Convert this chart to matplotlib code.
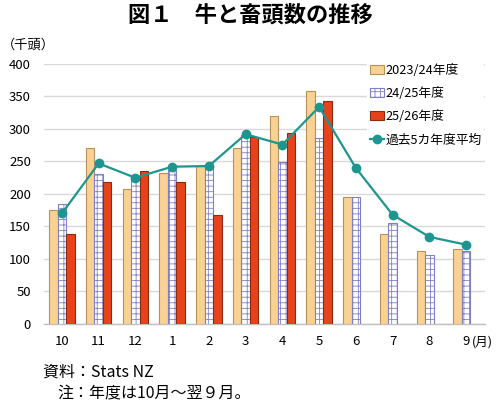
import matplotlib
matplotlib.use("Agg")
import matplotlib.pyplot as plt
import numpy as np

plt.rcParams['font.family'] = ['Noto Sans CJK JP', 'DejaVu Sans']
plt.rcParams['hatch.linewidth'] = 0.6

months = ["10", "11", "12", "1", "2", "3", "4", "5", "6", "7", "8", "9"]
fy2023_24 = [176, 270, 207, 232, 243, 271, 320, 359, 196, 139, 113, 116]
fy24_25 = [184, 231, 223, 237, 241, 290, 249, 286, 196, 156, 106, 113]
fy25_26 = [138, 219, 236, 219, 168, 288, 294, 343, None, None, None, None]
avg5 = [170, 247, 225, 242, 243, 292, 276, 334, 240, 168, 134, 122]

labels = ["2023/24年度", "24/25年度", "25/26年度", "過去5カ年度平均"]
yticks = [0, 50, 100, 150, 200, 250, 300, 350, 400]

fig = plt.figure(figsize=(5.0, 4.05), dpi=100)
ax = fig.add_axes([0.087, 0.2, 0.882, 0.642])

x = np.arange(len(months))
w = 0.23

b1 = ax.bar(x - w, fy2023_24, w, color="#F9D293", edgecolor="#B8915A", linewidth=0.8, zorder=3, label=labels[0])
b2 = ax.bar(x, fy24_25, w, color="white", edgecolor="#7F80C6", hatch="+++", linewidth=0.8, zorder=3, label=labels[1])
xr = [xi + w for xi, v in zip(x, fy25_26) if v is not None]
vr = [v for v in fy25_26 if v is not None]
b3 = ax.bar(xr, vr, w, color="#E8421A", edgecolor="#8A2A10", linewidth=0.8, zorder=3, label=labels[2])
ln, = ax.plot(x, avg5, color="#1F958F", linewidth=1.6, marker="o", markersize=6, zorder=4, label=labels[3])

ax.set_ylim(0, 400)
ax.set_xlim(-0.5, len(months) - 0.5)
ax.set_yticks(yticks)
ax.set_xticks(x)
ax.set_xticklabels(months)
ax.yaxis.grid(True, color="#D9D9D9", linewidth=1.0, zorder=0)
ax.set_axisbelow(True)
for s in ["top", "right", "left"]:
    ax.spines[s].set_visible(False)
ax.spines["bottom"].set_color("#BFBFBF")
ax.spines["bottom"].set_linewidth(1.0)
ax.tick_params(axis="both", length=0, labelsize=9.5, colors="#000000")
ax.tick_params(axis="x", pad=8)
ax.tick_params(axis="y", pad=9)

leg = ax.legend(handles=[b1, b2, b3, ln], loc="upper left", bbox_to_anchor=(0.72, 1.035),
                frameon=True, facecolor="white", edgecolor="white", framealpha=1.0,
                fontsize=9.2, handlelength=1.1, handletextpad=0.1, labelspacing=0.8,
                borderpad=0.2)
leg.set_zorder(5)
leg.get_frame().set_linewidth(0)

fig.text(0.5, 0.963, "図１　牛と畜頭数の推移", ha="center", va="center", fontsize=16, fontweight="bold")
fig.text(0.004, 0.888, "（千頭）", ha="left", va="center", fontsize=9.5)
fig.text(0.943, 0.155, "(月)", ha="left", va="center", fontsize=9)
fig.text(0.086, 0.082, "資料：Stats NZ", ha="left", va="center", fontsize=11.5)
fig.text(0.114, 0.028, "注：年度は10月～翌９月。", ha="left", va="center", fontsize=11.5)

fig.savefig("out.png", dpi=100)
